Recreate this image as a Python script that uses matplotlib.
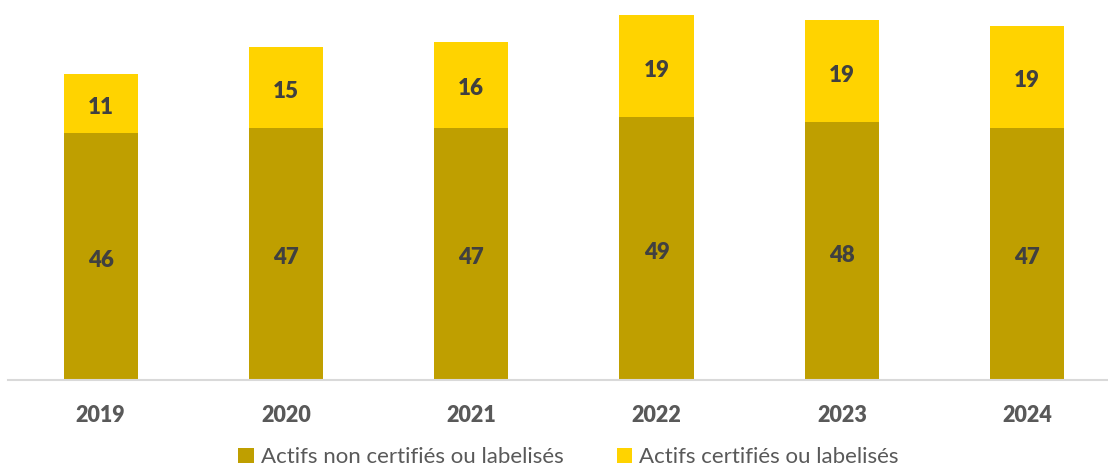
import matplotlib.pyplot as plt

years = ['2019', '2020', '2021', '2022', '2023', '2024']
non_certified = [46, 47, 47, 49, 48, 47]
certified = [11, 15, 16, 19, 19, 19]

plt.rcParams['font.family'] = ['Lato', 'DejaVu Sans']

fig = plt.figure(figsize=(11.08, 4.74), dpi=100)
ax = fig.add_axes([8 / 1108, 94 / 474, 1100 / 1108, 380 / 474])

x = range(len(years))
b1 = ax.bar(x, non_certified, width=0.4, color='#BF9F00',
            label='Actifs non certifiés ou labelisés')
b2 = ax.bar(x, certified, width=0.4, bottom=non_certified, color='#FFD300',
            label='Actifs certifiés ou labelisés')

for bars in (b1, b2):
    ax.bar_label(bars, label_type='center', fontsize=16, fontweight='heavy',
                 color='#404040', padding=-3)

ax.set_xlim(-0.5, -0.5 + 1100 / 185.3)
ax.set_ylim(0, 380 / 5.37)
ax.set_xticks(list(x))
ax.set_xticklabels(years, fontsize=15.5, fontweight='heavy', color='#595959')
ax.tick_params(axis='x', length=0, pad=18)
ax.set_yticks([])
for s in ['top', 'right', 'left']:
    ax.spines[s].set_visible(False)
ax.spines['bottom'].set_color('#D9D9D9')
ax.spines['bottom'].set_linewidth(1.5)

leg = fig.legend(loc='lower center', bbox_to_anchor=(0.513, -0.028), ncol=2,
                 frameon=False, fontsize=16, handlelength=0.7, handleheight=0.7,
                 handletextpad=0.3, columnspacing=2.4)
for t in leg.get_texts():
    t.set_color('#595959')

fig.savefig('out.png', dpi=100)
